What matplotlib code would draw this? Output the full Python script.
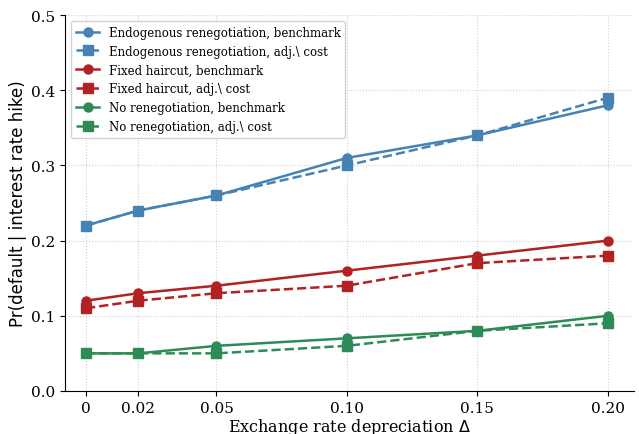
import numpy as np
import matplotlib
matplotlib.use("Agg")
import matplotlib.pyplot as plt

delta = [0, 0.02, 0.05, 0.10, 0.15, 0.20]
delta_labels = ["0", "0.02", "0.05", "0.10", "0.15", "0.20"]

endo_bench = [0.22, 0.24, 0.26, 0.31, 0.34, 0.38]
endo_adj = [0.22, 0.24, 0.26, 0.30, 0.34, 0.39]
fixed_bench = [0.12, 0.13, 0.14, 0.16, 0.18, 0.20]
fixed_adj = [0.11, 0.12, 0.13, 0.14, 0.17, 0.18]
noreneg_bench = [0.05, 0.05, 0.06, 0.07, 0.08, 0.10]
noreneg_adj = [0.05, 0.05, 0.05, 0.06, 0.08, 0.09]

plt.rcParams["font.family"] = "DejaVu Serif"

fig, ax = plt.subplots(figsize=(6.39, 4.35), dpi=100)

series = [
    (endo_bench, "steelblue", "-", "o", "Endogenous renegotiation, benchmark"),
    (endo_adj, "steelblue", "--", "s", r"Endogenous renegotiation, adj.\ cost"),
    (fixed_bench, "firebrick", "-", "o", "Fixed haircut, benchmark"),
    (fixed_adj, "firebrick", "--", "s", r"Fixed haircut, adj.\ cost"),
    (noreneg_bench, "seagreen", "-", "o", "No renegotiation, benchmark"),
    (noreneg_adj, "seagreen", "--", "s", r"No renegotiation, adj.\ cost"),
]
for vals, col, ls, mk, lab in series:
    ax.plot(delta, vals, color=col, ls=ls, marker=mk, lw=1.8, ms=6.5, label=lab)

ax.set_xticks(delta)
ax.set_xticklabels(delta_labels)
ax.set_ylim(0, 0.5)
ax.set_xlim(-0.008, 0.21)
ax.set_yticks(np.arange(0, 0.51, 0.1))
ax.tick_params(labelsize=11)
ax.grid(True, ls=":", color="#d0d0d0", lw=0.8)
ax.spines["top"].set_visible(False)
ax.spines["right"].set_visible(False)
ax.set_xlabel(r"Exchange rate depreciation $\Delta$", fontsize=11.5, labelpad=1)
ax.set_ylabel("Pr(default | interest rate hike)", fontsize=12, family="DejaVu Sans",
              labelpad=3)
ax.legend(loc="upper left", fontsize=8.5, framealpha=0.9)

fig.subplots_adjust(left=0.102, right=0.992, bottom=0.099, top=0.963)
fig.savefig("out.png", dpi=100)
